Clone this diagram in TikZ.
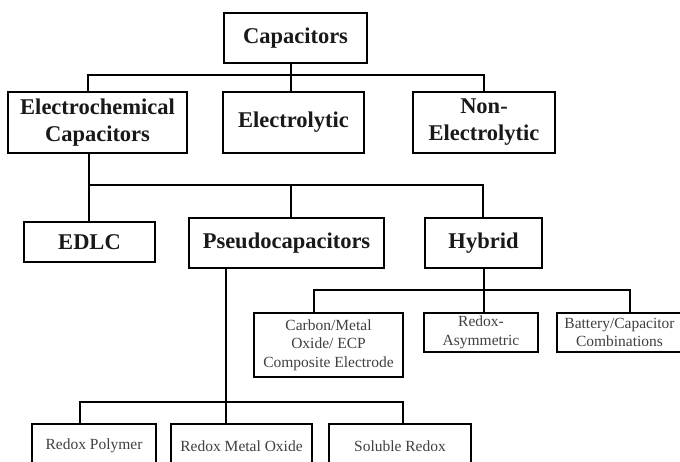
\documentclass[tikz,border=0pt]{standalone}
\usepackage{fontspec}
\setmainfont{Liberation Serif}
\begin{document}
\begin{tikzpicture}[x=1pt,y=-1pt,
  box/.style={draw=black, line width=2.2pt, rectangle, inner sep=0pt, align=center},
  big/.style={box, font=\fontsize{22.5}{27}\selectfont\bfseries, text=black!90},
  small/.style={box, font=\fontsize{15.5}{18.5}\selectfont, text=black!75},
  conn/.style={draw=black, line width=2.2pt, line cap=rect}]
\clip (0,0) rectangle (680,461);
\fill[white] (0,0) rectangle (680,461);
% level 0
\node[big, minimum width=143pt, minimum height=50pt] (cap) at (295.5,38) {Capacitors};
% level 1
\node[big, minimum width=179pt, minimum height=61pt] (ec) at (97.5,122.5) {Electrochemical\\Capacitors};
\node[big, minimum width=141pt, minimum height=61pt] (elyt) at (293.5,122.5) {Electrolytic};
\node[big, minimum width=142pt, minimum height=61pt] (nel) at (484,122.5) {Non-\\Electrolytic};
% level 2
\node[big, minimum width=131pt, minimum height=40pt] (edlc) at (89.5,242) {EDLC};
\node[big, minimum width=195pt, minimum height=50pt] (pseudo) at (286.5,243) {Pseudocapacitors};
\node[big, minimum width=117pt, minimum height=50pt] (hyb) at (483.5,243) {Hybrid};
% hybrid children
\node[small, minimum width=149pt, minimum height=64pt] (carbon) at (328.5,345) {Carbon/Metal\\Oxide/ ECP\\Composite Electrode};
\node[small, minimum width=114pt, minimum height=39pt] (rasym) at (481,332.5) {Redox-\\Asymmetric};
\node[small, minimum width=125pt, minimum height=39pt] (batt) at (619.5,332.5) {Battery/Capacitor\\Combinations};
% pseudo children
\node[small, minimum width=124pt, minimum height=44pt] (rp) at (94,446) {Redox Polymer};
\node[small, minimum width=141pt, minimum height=44pt] (rmo) at (241.5,446) {Redox Metal Oxide};
\node[small, minimum width=142pt, minimum height=44pt] (sr) at (400,446) {Soluble Redox};
% bus coordinates
\coordinate (b0L) at (88,75);
\coordinate (b0M) at (291,75);
\coordinate (b0R) at (484,75);
\coordinate (b1L) at (89,185);
\coordinate (b1M) at (291,185);
\coordinate (b1R) at (483,185);
\coordinate (b2L) at (314,290);
\coordinate (b2M) at (484,290);
\coordinate (b2R) at (630,290);
\coordinate (b3L) at (80,402);
\coordinate (b3M) at (226,402);
\coordinate (b3R) at (403,402);
% connectors level 0 -> 1
\draw[conn] (cap.south -| b0M) -- (elyt.north -| b0M);
\draw[conn] (ec.north -| b0L) -- (b0L) -- (b0R) -- (nel.north -| b0R);
% level 1 -> 2
\draw[conn] (ec.south -| b1L) -- (edlc.north -| b1L);
\draw[conn] (b1L) -- (b1R) -- (hyb.north -| b1R);
\draw[conn] (b1M) -- (pseudo.north -| b1M);
% hybrid -> children
\draw[conn] (hyb.south -| b2M) -- (rasym.north -| b2M);
\draw[conn] (carbon.north -| b2L) -- (b2L) -- (b2R) -- (batt.north -| b2R);
% pseudo -> children
\draw[conn] (pseudo.south -| b3M) -- (rmo.north -| b3M);
\draw[conn] (rp.north -| b3L) -- (b3L) -- (b3R) -- (sr.north -| b3R);
\end{tikzpicture}
\end{document}
